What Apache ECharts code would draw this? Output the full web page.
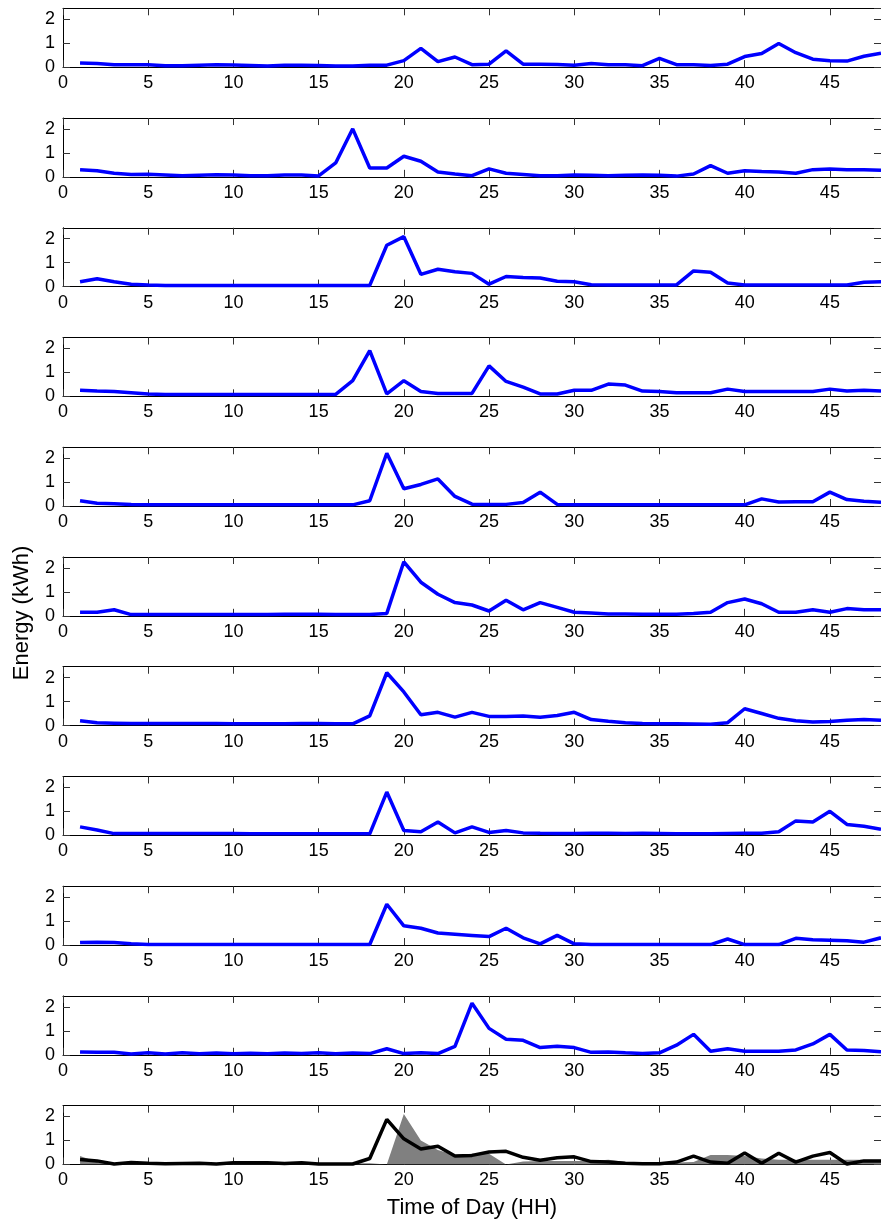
<!DOCTYPE html>
<html>
<head>
<meta charset="utf-8">
<script src="https://cdn.jsdelivr.net/npm/echarts@6/dist/echarts.min.js"></script>
<style>
  html, body { margin: 0; padding: 0; background: #fff; }
  #chart { width: 881px; height: 1227px; }
</style>
</head>
<body>
<div id="chart"></div>
<script>
// === Data (half-hour index 1..48, energy in kWh) ===
const hours = [1,2,3,4,5,6,7,8,9,10,11,12,13,14,15,16,17,18,19,20,21,22,23,24,
               25,26,27,28,29,30,31,32,33,34,35,36,37,38,39,40,41,42,43,44,45,46,47,48];
const xTicks = [0, 5, 10, 15, 20, 25, 30, 35, 40, 45];
const yTicks = [0, 1, 2];

const day1 = [0.17,0.15,0.1,0.1,0.1,0.06,0.06,0.08,0.1,0.09,0.07,0.05,0.08,0.08,0.07,0.05,0.05,0.08,0.08,0.27,0.78,0.23,0.42,0.1,
              0.12,0.68,0.12,0.12,0.11,0.08,0.15,0.1,0.1,0.06,0.36,0.1,0.1,0.07,0.12,0.44,0.57,0.98,0.6,0.33,0.26,0.25,0.45,0.58];
const day2 = [0.3,0.25,0.15,0.1,0.11,0.08,0.05,0.07,0.09,0.08,0.05,0.05,0.08,0.08,0.04,0.58,2.0,0.37,0.37,0.86,0.65,0.2,0.12,0.05,
              0.33,0.15,0.1,0.05,0.05,0.08,0.07,0.05,0.07,0.08,0.07,0.03,0.12,0.47,0.15,0.25,0.22,0.2,0.15,0.3,0.33,0.3,0.3,0.27];
const day3 = [0.2,0.33,0.2,0.1,0.07,0.05,0.05,0.05,0.05,0.05,0.05,0.05,0.05,0.05,0.05,0.05,0.05,0.05,1.72,2.08,0.51,0.72,0.62,0.55,
              0.1,0.42,0.38,0.36,0.22,0.2,0.08,0.07,0.07,0.07,0.07,0.07,0.65,0.6,0.15,0.07,0.07,0.07,0.07,0.07,0.07,0.07,0.18,0.2];
const day4 = [0.25,0.22,0.2,0.15,0.1,0.08,0.08,0.08,0.08,0.08,0.08,0.08,0.08,0.08,0.08,0.08,0.65,1.9,0.1,0.65,0.2,0.12,0.12,0.12,
              1.27,0.62,0.38,0.1,0.1,0.25,0.25,0.51,0.47,0.22,0.2,0.15,0.15,0.15,0.3,0.2,0.2,0.2,0.2,0.2,0.3,0.22,0.25,0.22];
const day5 = [0.22,0.12,0.1,0.07,0.05,0.05,0.05,0.05,0.05,0.05,0.05,0.05,0.05,0.05,0.05,0.05,0.05,0.22,2.2,0.72,0.9,1.13,0.4,0.08,
              0.07,0.07,0.15,0.58,0.07,0.05,0.05,0.05,0.05,0.05,0.05,0.05,0.05,0.05,0.05,0.05,0.3,0.17,0.18,0.18,0.58,0.27,0.2,0.16];
const day6 = [0.15,0.15,0.25,0.05,0.05,0.05,0.05,0.05,0.05,0.05,0.05,0.05,0.06,0.06,0.06,0.05,0.05,0.05,0.1,2.25,1.4,0.9,0.55,0.45,
              0.2,0.65,0.25,0.55,0.35,0.15,0.12,0.08,0.08,0.06,0.06,0.06,0.1,0.15,0.55,0.7,0.5,0.15,0.15,0.25,0.15,0.3,0.25,0.25];
const day7 = [0.2,0.12,0.1,0.08,0.08,0.08,0.08,0.08,0.08,0.07,0.07,0.07,0.07,0.08,0.08,0.07,0.07,0.4,2.2,1.4,0.45,0.55,0.35,0.55,
              0.38,0.38,0.4,0.35,0.42,0.55,0.25,0.18,0.12,0.08,0.07,0.07,0.06,0.05,0.12,0.7,0.5,0.3,0.2,0.15,0.17,0.22,0.25,0.22];
const day8 = [0.35,0.22,0.07,0.07,0.07,0.07,0.07,0.07,0.07,0.07,0.06,0.06,0.06,0.06,0.06,0.06,0.06,0.06,1.8,0.2,0.15,0.55,0.1,0.35,
              0.12,0.2,0.1,0.08,0.07,0.07,0.08,0.08,0.07,0.08,0.07,0.06,0.06,0.06,0.07,0.08,0.08,0.15,0.6,0.55,1.0,0.45,0.38,0.25];
const day9 = [0.1,0.12,0.1,0.05,0.02,0.02,0.02,0.02,0.02,0.02,0.02,0.02,0.02,0.02,0.02,0.02,0.02,0.02,1.7,0.8,0.7,0.5,0.45,0.4,
              0.35,0.7,0.3,0.05,0.4,0.05,0.02,0.02,0.02,0.02,0.02,0.02,0.02,0.02,0.25,0.02,0.02,0.02,0.28,0.22,0.2,0.18,0.12,0.3];
const day10 = [0.12,0.1,0.1,0.03,0.08,0.03,0.08,0.04,0.07,0.04,0.06,0.04,0.07,0.05,0.08,0.04,0.07,0.05,0.25,0.05,0.08,0.05,0.35,2.15,
               1.1,0.65,0.6,0.3,0.35,0.3,0.1,0.12,0.08,0.05,0.08,0.4,0.85,0.15,0.25,0.15,0.15,0.15,0.2,0.45,0.85,0.2,0.18,0.12];
// bottom panel: grey spread and black profile
const spread = [0.35,0.1,0.05,0.05,0.05,0.05,0.05,0.05,0.05,0.05,0.05,0.05,0.05,0.05,0.05,0.05,0.05,0.05,0.0,2.1,1.0,0.6,0.4,0.45,
                0.45,0.0,0.12,0.15,0.15,0.15,0.15,0.2,0.1,0.08,0.05,0.08,0.1,0.4,0.4,0.35,0.25,0.2,0.2,0.2,0.2,0.2,0.2,0.2];
const profile = [0.21,0.15,0.02,0.08,0.05,0.03,0.04,0.05,0.02,0.07,0.07,0.07,0.04,0.07,0.02,0.02,0.02,0.25,1.88,1.07,0.65,0.76,0.35,0.38,
                 0.52,0.55,0.3,0.18,0.28,0.32,0.12,0.1,0.05,0.03,0.03,0.1,0.35,0.1,0.05,0.48,0.05,0.47,0.1,0.35,0.5,0.02,0.15,0.15];

const panels = [day1, day2, day3, day4, day5, day6, day7, day8, day9, day10, profile];

// === Layout ===
const FONT = "'Liberation Sans', Arial, sans-serif";
const top0 = 8.3, step = 109.74, plotH = 58.8;
const grid = [], xAxis = [], yAxis = [], series = [];

panels.forEach((vals, i) => {
    grid.push({ left: 63, right: 0, top: top0 + i * step, height: plotH });
    const tickStyle = { inside: true, length: 7, lineStyle: { color: '#333', width: 1 } };
    const line = { show: true, onZero: false, lineStyle: { color: '#000', width: 1 } };
    // bottom x axis (labels)
    xAxis.push({
        type: 'value', gridIndex: i, min: 0, max: 48, interval: 5,
        axisLine: line, axisTick: tickStyle,
        axisLabel: { color: '#000', fontSize: 18, fontFamily: FONT, margin: 7, showMaxLabel: false },
        splitLine: { show: false }
    });
    // top x axis (mirror ticks only)
    xAxis.push({
        type: 'value', gridIndex: i, position: 'top', min: 0, max: 48, interval: 5,
        axisLine: line, axisTick: tickStyle, axisLabel: { show: false }, splitLine: { show: false }
    });
    yAxis.push({
        type: 'value', gridIndex: i, position: 'left', min: 0, max: 2.45, interval: 1,
        axisLine: line, axisTick: tickStyle,
        axisLabel: { color: '#000', fontSize: 18, fontFamily: FONT, margin: 8, showMaxLabel: false },
        splitLine: { show: false }
    });
    yAxis.push({
        type: 'value', gridIndex: i, position: 'right', min: 0, max: 2.45, interval: 1,
        axisLine: line, axisTick: tickStyle, axisLabel: { show: false }, splitLine: { show: false }
    });

    if (i === panels.length - 1) {
        series.push({
            type: 'line', xAxisIndex: 2 * i, yAxisIndex: 2 * i,
            data: hours.map((h, k) => [h, spread[k]]),
            symbol: 'none', lineStyle: { width: 0 },
            areaStyle: { color: '#808080', opacity: 1 },
            silent: true, z: 1
        });
    }
    series.push({
        type: 'line', xAxisIndex: 2 * i, yAxisIndex: 2 * i,
        data: hours.map((h, k) => [h, vals[k]]),
        symbol: 'none',
        lineStyle: { color: i === panels.length - 1 ? '#000' : '#0000ff', width: 3.5 },
        silent: true, z: 3
    });
});

const myChart = echarts.init(document.getElementById('chart'));
myChart.setOption({
    animation: false,
    grid, xAxis, yAxis, series,
    graphic: [
        {
            type: 'text', x: 22, y: 613, rotation: Math.PI / 2,
            style: { text: 'Energy (kWh)', font: '22px ' + FONT, fill: '#000', align: 'center', verticalAlign: 'middle' }
        },
        {
            type: 'text', x: 472, y: 1208,
            style: { text: 'Time of Day (HH)', font: '22px ' + FONT, fill: '#000', align: 'center', verticalAlign: 'middle' }
        }
    ]
});
</script>
</body>
</html>
